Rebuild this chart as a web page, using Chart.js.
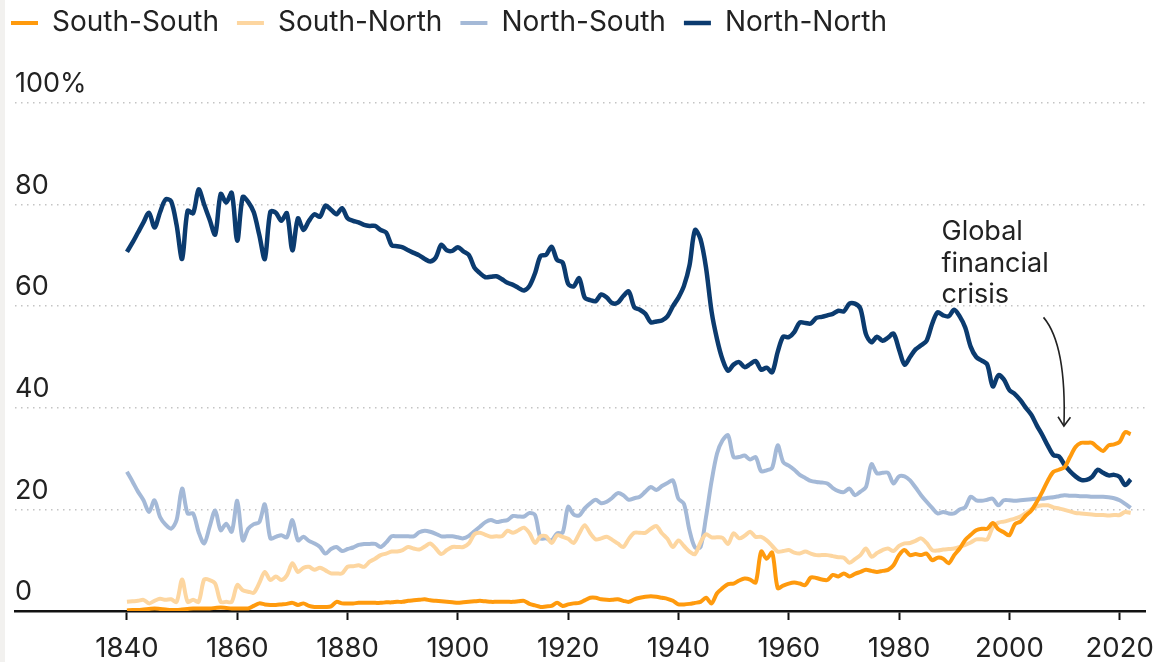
<!DOCTYPE html>
<html>
<head>
<meta charset="utf-8">
<script src="https://cdn.jsdelivr.net/npm/chart.js@4.4.1/dist/chart.umd.min.js"></script>
<style>
  html, body { margin: 0; padding: 0; background: #fff; }
  #wrap { position: relative; width: 1159px; height: 662px; }
  #edge { position: absolute; left: 0; top: 0; width: 5px; height: 662px; background: #f2f1ef; }
</style>
</head>
<body>
<div id="wrap">
  <canvas id="chart" width="1159" height="662"></canvas>
  <div id="edge"></div>
</div>
<script>
// years 1840 - 2022, one value per year
const firstYear = 1840;

const southSouth = [
  0.1, 0.2, 0.2, 0.3, 0.4, 0.5, 0.4, 0.3, 0.2, 0.2,
  0.3, 0.4, 0.5, 0.5, 0.5, 0.5, 0.6, 0.7, 0.6, 0.5,
  0.5, 0.5, 0.5, 1.0, 1.5, 1.3, 1.2, 1.2, 1.3, 1.4,
  1.6, 1.2, 1.5, 1.0, 0.8, 0.8, 0.8, 0.9, 1.8, 1.5,
  1.5, 1.5, 1.6, 1.6, 1.6, 1.6, 1.6, 1.7, 1.7, 1.8,
  1.8, 2.0, 2.1, 2.2, 2.3, 2.1, 2.0, 1.9, 1.8, 1.7,
  1.6, 1.7, 1.8, 1.9, 2.0, 1.9, 1.8, 1.8, 1.8, 1.8,
  1.8, 1.9, 2.0, 1.4, 1.1, 0.8, 0.9, 1.0, 1.6, 1.0,
  1.3, 1.5, 1.6, 2.1, 2.6, 2.6, 2.3, 2.2, 2.2, 2.3,
  2.0, 1.8, 2.3, 2.6, 2.8, 2.9, 2.8, 2.6, 2.4, 2.0,
  1.3, 1.3, 1.4, 1.6, 1.8, 2.6, 1.5, 3.5, 4.5, 5.3,
  5.4, 6.0, 6.4, 6.2, 5.6, 11.7, 10.3, 11.5, 4.5, 5.0,
  5.4, 5.6, 5.4, 5.1, 6.6, 6.5, 6.2, 6.1, 7.1, 6.8,
  7.4, 6.8, 7.3, 7.7, 8.1, 7.9, 7.7, 7.9, 8.1, 9.0,
  11.0, 12.0, 11.0, 11.2, 11.0, 11.3, 10.0, 10.5, 10.3, 9.4,
  11.0, 12.3, 14.0, 15.0, 15.9, 16.2, 16.2, 17.3, 16.1, 15.5,
  14.9, 17.1, 17.6, 18.8, 19.8, 21.5, 23.5, 25.7, 27.4, 27.8,
  28.3, 30.3, 32.3, 33.1, 33.1, 33.1, 32.2, 31.5, 32.6, 32.8,
  33.3, 35.2, 34.8
];

const southNorth = [
  1.8, 1.9, 2.0, 2.2, 1.5, 2.0, 2.4, 2.2, 2.3, 1.8,
  6.2, 1.8, 2.2, 1.8, 6.2, 6.1, 5.4, 1.8, 1.8, 1.8,
  5.1, 4.1, 3.8, 3.6, 5.5, 7.7, 6.1, 6.8, 6.1, 7.0,
  9.4, 7.7, 8.5, 8.7, 8.1, 8.5, 8.0, 7.4, 7.4, 7.4,
  8.7, 8.8, 9.0, 8.7, 9.7, 10.3, 11.0, 11.3, 11.7, 11.7,
  12.0, 12.6, 12.3, 12.1, 12.7, 13.3, 12.3, 11.2, 12.0, 12.6,
  12.6, 12.6, 13.3, 15.1, 15.4, 15.0, 14.6, 14.7, 14.7, 15.8,
  15.4, 15.9, 16.4, 15.3, 13.4, 14.7, 14.7, 13.4, 14.9, 14.6,
  14.2, 13.4, 15.2, 16.9, 15.3, 14.1, 14.3, 14.6, 14.0, 13.3,
  12.6, 14.2, 15.4, 15.4, 15.4, 16.2, 16.7, 15.3, 14.2, 12.6,
  13.9, 12.8, 11.7, 11.2, 13.5, 15.1, 14.5, 14.5, 14.4, 13.2,
  15.3, 14.3, 14.8, 15.6, 14.6, 14.6, 13.9, 12.8, 11.7, 11.8,
  12.0, 11.5, 11.3, 11.7, 11.3, 11.0, 11.0, 11.0, 10.8, 10.6,
  10.5, 9.5, 10.2, 11.0, 12.3, 10.7, 11.4, 12.0, 12.3, 11.8,
  12.8, 13.3, 13.4, 13.8, 14.3, 13.4, 12.0, 11.9, 12.1, 12.2,
  12.3, 12.6, 13.0, 13.5, 14.1, 14.1, 14.1, 16.5, 17.4, 17.6,
  17.9, 18.2, 18.6, 19.3, 20.0, 20.6, 20.8, 20.8, 20.4, 20.2,
  19.9, 19.6, 19.3, 19.2, 19.1, 19.0, 18.9, 18.9, 18.8, 18.9,
  18.9, 19.5, 19.3
];

const northSouth = [
  27.4, 25.5, 23.5, 21.8, 19.5, 21.8, 18.5, 17.0, 16.2, 17.9,
  24.1, 19.2, 19.2, 15.5, 13.3, 16.6, 19.8, 15.9, 17.2, 15.6,
  21.7, 13.9, 16.2, 17.1, 17.5, 21.0, 14.3, 14.6, 14.9, 14.5,
  17.9, 13.9, 14.6, 13.8, 13.3, 12.6, 11.3, 12.2, 12.6, 11.8,
  12.2, 12.5, 13.0, 13.2, 13.2, 13.2, 12.6, 13.5, 14.7, 14.7,
  14.7, 14.7, 14.7, 15.5, 15.8, 15.6, 15.2, 14.7, 14.7, 14.7,
  14.5, 14.3, 14.8, 15.7, 16.6, 17.5, 17.9, 17.5, 17.7, 17.9,
  18.7, 18.6, 18.6, 19.3, 18.9, 14.3, 14.3, 13.9, 15.3, 15.4,
  20.5, 19.0, 18.8, 20.2, 21.2, 21.9, 21.2, 21.5, 22.3, 23.2,
  22.8, 21.9, 22.2, 22.5, 23.5, 24.4, 23.8, 24.6, 25.2, 25.7,
  22.1, 21.1, 15.9, 12.5, 12.6, 18.5, 25.5, 31.0, 33.6, 34.6,
  30.3, 30.3, 30.6, 29.8, 30.3, 27.5, 27.7, 28.2, 32.6, 29.3,
  28.6, 27.8, 26.8, 26.2, 25.6, 25.4, 25.3, 25.1, 24.2, 23.6,
  23.4, 24.1, 22.8, 23.5, 24.4, 28.9, 27.1, 27.2, 27.2, 25.1,
  26.5, 26.5, 25.7, 24.3, 22.8, 21.5, 20.3, 19.2, 19.5, 19.2,
  19.2, 20.0, 20.4, 22.5, 21.8, 21.7, 21.9, 22.1, 20.8, 21.8,
  21.8, 21.7, 21.8, 21.9, 22.0, 22.1, 22.1, 22.3, 22.4, 22.6,
  22.8, 22.7, 22.7, 22.6, 22.6, 22.5, 22.5, 22.5, 22.4, 22.2,
  21.8, 21.1, 20.3
];

const northNorth = [
  70.7, 72.5, 74.5, 76.5, 78.4, 75.5, 78.5, 81.0, 80.7, 76.0,
  69.3, 78.8, 78.3, 83.0, 80.0, 77.0, 74.1, 82.1, 80.4, 82.3,
  72.9, 81.5, 80.5, 78.5, 74.0, 69.3, 78.6, 78.4, 76.8, 78.3,
  71.0, 77.3, 75.0, 76.8, 78.1, 77.6, 79.8, 79.0, 78.1, 79.3,
  77.3, 76.8, 76.5, 76.0, 75.8, 75.8, 75.0, 74.5, 72.0, 71.8,
  71.6, 71.0, 70.5, 70.0, 69.3, 68.8, 69.6, 72.1, 71.0, 70.9,
  71.6, 70.8, 70.1, 67.6, 66.5, 65.7, 65.8, 65.9, 65.3, 64.6,
  64.2, 63.6, 63.1, 64.0, 66.5, 69.9, 70.1, 71.7, 69.1, 68.6,
  64.4, 63.9, 65.5, 61.7, 61.2, 61.0, 62.3, 61.7, 60.6, 60.7,
  62.0, 62.9, 59.8, 59.3, 58.5, 56.8, 57.0, 57.2, 58.0, 60.0,
  61.7, 64.0, 68.0, 75.0, 73.2, 67.6, 59.0, 53.5, 49.5, 47.3,
  48.5, 49.0, 48.0, 48.6, 49.2, 47.5, 47.9, 47.0, 51.0, 54.0,
  53.9, 54.9, 56.8, 56.7, 56.6, 57.7, 57.9, 58.2, 58.5, 59.1,
  59.0, 60.5, 60.5, 59.5, 54.5, 52.9, 54.0, 53.2, 53.8, 54.6,
  51.5, 48.5, 50.0, 51.5, 52.3, 53.2, 56.5, 58.8, 58.2, 58.0,
  59.3, 58.0, 55.8, 52.0, 50.0, 49.3, 48.5, 44.2, 46.4, 45.6,
  43.5, 42.7, 41.5, 40.0, 38.6, 36.5, 34.6, 32.5, 30.7, 30.4,
  28.8, 27.5, 26.5, 25.8, 25.8, 26.4, 27.8, 27.2, 26.7, 26.8,
  26.4, 24.8, 25.9
];

const seriesNames = ['South-South', 'South-North', 'North-South', 'North-North'];
const seriesColors = ['#ff9a0d', '#fdd6a0', '#a4b9d7', '#0b3b6f'];
const seriesWidths = [4, 4, 4, 4.5];

const xTicks = [1840, 1860, 1880, 1900, 1920, 1940, 1960, 1980, 2000, 2020];
const yTicks = [0, 20, 40, 60, 80, 100];

// annotation text and arrow, in data units
const noteLines = ['Global', 'financial', 'crisis'];
const noteAt = [1987.7, 73.0];
const arrowFrom = [2006.2, 57.8];
const arrowBend = [2010.4, 52.4];
const arrowTo = [2009.9, 36.4];

const years = southSouth.map((_, i) => firstYear + i);
const allSeries = [southSouth, southNorth, northSouth, northNorth];

Chart.defaults.font.family = 'Inter';
Chart.defaults.color = '#222';

const datasets = allSeries.map((vals, i) => ({
  label: seriesNames[i],
  data: vals.map((v, j) => ({ x: years[j], y: v })),
  borderColor: seriesColors[i],
  backgroundColor: seriesColors[i],
  borderWidth: seriesWidths[i],
  pointRadius: 0,
  tension: 0.3,
  fill: false
}));

// make the legend take a fixed slice at the top
const legendSpace = {
  id: 'legendSpace',
  beforeInit(chart) {
    const fit = chart.legend.fit;
    chart.legend.fit = function () {
      fit.call(this);
      this.height = 112;
    };
  }
};

const crisisNote = {
  id: 'crisisNote',
  afterDatasetsDraw(chart) {
    const { ctx, scales: { x, y } } = chart;
    ctx.save();
    ctx.font = '27px Inter';
    ctx.fillStyle = '#222';
    ctx.textAlign = 'left';
    ctx.textBaseline = 'alphabetic';
    const tx = x.getPixelForValue(noteAt[0]);
    const ty = y.getPixelForValue(noteAt[1]);
    noteLines.forEach((t, i) => ctx.fillText(t, tx, ty + i * 31.5));

    const sx = x.getPixelForValue(arrowFrom[0]), sy = y.getPixelForValue(arrowFrom[1]);
    const cx = x.getPixelForValue(arrowBend[0]), cy = y.getPixelForValue(arrowBend[1]);
    const ex = x.getPixelForValue(arrowTo[0]), ey = y.getPixelForValue(arrowTo[1]);
    ctx.strokeStyle = '#222';
    ctx.lineWidth = 1.6;
    ctx.beginPath();
    ctx.moveTo(sx, sy);
    ctx.quadraticCurveTo(cx, cy, ex, ey);
    ctx.stroke();
    // arrow head
    const ang = Math.atan2(ey - cy, ex - cx);
    const len = 11;
    ctx.beginPath();
    ctx.moveTo(ex - len * Math.cos(ang - 0.6), ey - len * Math.sin(ang - 0.6));
    ctx.lineTo(ex, ey);
    ctx.lineTo(ex - len * Math.cos(ang + 0.6), ey - len * Math.sin(ang + 0.6));
    ctx.stroke();
    ctx.restore();
  }
};

new Chart(document.getElementById('chart'), {
  type: 'line',
  data: { datasets },
  options: {
    responsive: false,
    devicePixelRatio: 1,
    animation: false,
    events: [],
    layout: { padding: { top: -9, left: -7, right: 14, bottom: 0 } },
    plugins: {
      tooltip: { enabled: false },
      legend: {
        position: 'top',
        align: 'start',
        labels: {
          usePointStyle: true,
          pointStyle: 'line',
          pointStyleWidth: 27,
          boxHeight: 4,
          padding: 18,
          color: '#222',
          font: { size: 28 }
        }
      }
    },
    scales: {
      x: {
        type: 'linear',
        min: 1819.7,
        max: 2024.6,
        afterBuildTicks: axis => { axis.ticks = xTicks.map(v => ({ value: v })); },
        afterFit: axis => {
          axis.height = 51;
          axis.paddingLeft = 0;
          axis.paddingRight = 0;
        },
        border: { display: true, color: '#111', width: 2.5 },
        grid: {
          display: true,
          drawOnChartArea: false,
          drawTicks: true,
          tickLength: 9,
          tickWidth: 2,
          tickColor: '#111',
          color: '#111'
        },
        ticks: {
          autoSkip: false,
          maxRotation: 0,
          padding: 12,
          color: '#222',
          font: { size: 27.5 },
          callback: v => String(v)
        }
      },
      y: {
        min: 0,
        max: 100,
        afterBuildTicks: axis => { axis.ticks = yTicks.map(v => ({ value: v })); },
        afterFit: axis => { axis.width = 22; },
        border: { display: false, dash: [1.5, 4.5] },
        grid: {
          drawTicks: false,
          lineWidth: 1.5,
          color: c => (c.tick && c.tick.value === 0) ? 'rgba(0,0,0,0)' : '#c4c4c4'
        },
        ticks: {
          mirror: true,
          padding: 0,
          labelOffset: -19,
          color: '#222',
          font: { size: 27 },
          callback: v => v === 100 ? '100%' : String(v)
        }
      }
    }
  },
  plugins: [legendSpace, crisisNote]
});
</script>
</body>
</html>
